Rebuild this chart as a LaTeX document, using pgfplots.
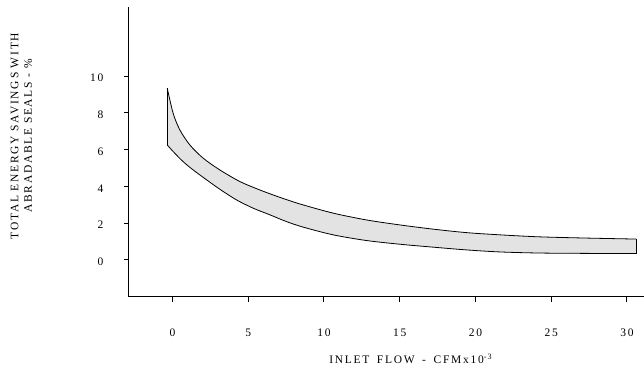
\documentclass[border=0pt]{standalone}
\usepackage{fontspec}
\setmainfont{Liberation Serif}[LetterSpace=15]
\usepackage{pgfplots}
\usepackage{pgfplotstable}
\pgfplotsset{compat=1.18}
\pgfplotstableread{
x y
-0.34 9.34
0.05 7.97
0.49 7.07
1.15 6.25
2.03 5.53
3.13 4.89
4.45 4.26
5.77 3.80
7.09 3.40
8.41 3.04
10.61 2.54
12.81 2.17
15.00 1.90
17.20 1.67
19.41 1.48
21.60 1.36
24.24 1.25
27.54 1.18
30.62 1.13
}\uppercurve
\pgfplotstableread{
x y
-0.34 6.25
0.05 5.89
0.71 5.34
1.37 4.89
2.26 4.35
3.13 3.84
4.23 3.26
5.33 2.81
6.43 2.45
7.53 2.08
8.63 1.78
10.61 1.36
12.81 1.05
15.00 0.85
17.20 0.69
19.41 0.54
21.60 0.43
24.24 0.37
27.54 0.35
30.62 0.34
}\lowercurve
\begin{document}
\begin{tikzpicture}
\path (-129pt,-73pt) rectangle (515pt,297pt);
\begin{axis}[
 at={(0,0)}, anchor=south west,
 scale only axis, width=515pt, height=290pt,
 xmin=-2.87, xmax=31.1, ymin=-2.01, ymax=13.75,
 axis x line=bottom, axis y line=left,
 axis line style={-, line width=0.9pt},
 xtick={0,5,...,30}, ytick={0,2,...,10},
 tick align=outside, major tick length=5pt,
 tick style={line width=0.8pt, black},
 /pgf/number format/assume math mode=true,
 tick label style={font=\fontsize{11.5}{13}\selectfont},
 y tick label style={xshift=-17pt, yshift=-2pt},
 x tick label style={yshift=-24pt},
 xlabel={INLET\hspace{3pt} FLOW\hspace{3pt} -\hspace{3pt} CFMx10\textsuperscript{-3}},
 ylabel={TOTAL ENERGY SAVINGS WITH\\ABRADABLE SEALS - \%},
 xlabel style={at={(axis description cs:0.5476,-0.2138)}, anchor=center, font=\fontsize{11.5}{13}\selectfont},
 ylabel style={at={(axis description cs:-0.2087,0.555)}, anchor=center, align=center, font=\fontsize{11.5}{13.5}\selectfont},
 clip=false,
]
\addplot[draw=none, fill=gray!22] coordinates {
(-0.34,9.34) (0.05,7.97) (0.49,7.07) (1.15,6.25) (2.03,5.53) (3.13,4.89) (4.45,4.26) (5.77,3.80) (7.09,3.40) (8.41,3.04) (10.61,2.54) (12.81,2.17) (15.00,1.90) (17.20,1.67) (19.41,1.48) (21.60,1.36) (24.24,1.25) (27.54,1.18) (30.62,1.13)
(30.62,0.34) (27.54,0.35) (24.24,0.37) (21.60,0.43) (19.41,0.54) (17.20,0.69) (15.00,0.85) (12.81,1.05) (10.61,1.36) (8.63,1.78) (7.53,2.08) (6.43,2.45) (5.33,2.81) (4.23,3.26) (3.13,3.84) (2.26,4.35) (1.37,4.89) (0.71,5.34) (0.05,5.89) (-0.34,6.25)
} -- cycle;
\addplot[black, line width=0.8pt, smooth] table {\uppercurve};
\addplot[black, line width=0.8pt, smooth] table {\lowercurve};
\addplot[black, line width=0.8pt] coordinates {(-0.34,6.25) (-0.34,9.34)};
\addplot[black, line width=0.8pt] coordinates {(30.62,0.34) (30.62,1.13)};
\end{axis}
\end{tikzpicture}
\end{document}
